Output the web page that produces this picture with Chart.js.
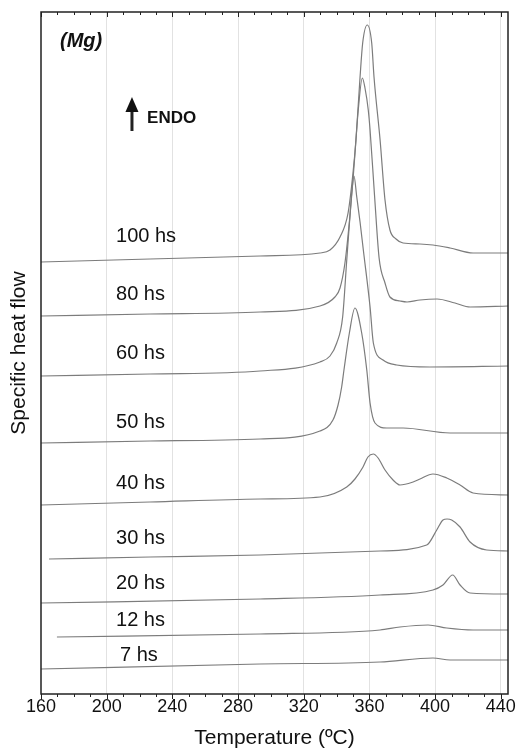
<!DOCTYPE html>
<html>
<head>
<meta charset="utf-8">
<script src="https://cdn.jsdelivr.net/npm/chart.js@4/dist/chart.umd.min.js"></script>
<style>
  html, body { margin: 0; padding: 0; background: #fff; }
  #wrap { width: 518px; height: 750px; }
</style>
</head>
<body>
<div id="wrap"><canvas id="chart" width="518" height="750"></canvas></div>
<script>
// DSC traces, [temperature ºC, heat flow (arb. units, stacked)]
const hs100 = [[160, 43.2], [226.4, 43.5], [293.4, 43.8], [329.9, 44.1], [336.0, 44.4], [342.1, 45.7], [347.0, 48.1],
  [350.0, 52.1], [351.8, 55.4], [354.3, 61.7], [355.9, 65.1], [358.7, 66.9], [361.4, 65.1], [362.8, 61.7], [366.5, 55.4],
  [369.5, 49.4], [372.5, 46.4], [376.2, 45.5], [380.5, 45.1], [390.8, 45.0], [398.7, 44.9], [409.1, 44.6], [423.1, 44.1], [444.4, 44.1]]
const hs80 = [[160, 37.8], [226.4, 38.0], [293.4, 38.2], [329.9, 38.8], [339.0, 39.7], [342.1, 40.6], [345.1, 43.1],
  [348.2, 47.9], [350.0, 51.4], [351.8, 55.4], [353.2, 58.4], [355.7, 61.6], [357.3, 60.6], [359.3, 58.4], [360.4, 56.4],
  [363.1, 49.9], [365.9, 43.6], [369.5, 41.1], [372.5, 39.7], [378.6, 39.3], [382.9, 39.2], [390.8, 39.4], [401.2, 39.5],
  [412.1, 39.1], [421.3, 38.7], [444.4, 38.8]]
const hs60 = [[160, 31.8], [226.4, 32.0], [293.4, 32.3], [329.9, 33.2], [336.0, 33.8], [340.1, 35.1], [343.7, 37.7],
  [346.2, 43.4], [348.2, 47.9], [349.4, 50.4], [350.6, 51.8], [352.3, 49.7], [354.3, 47.2], [356.3, 44.4], [360.4, 38.7],
  [362.4, 35.1], [368.3, 33.4], [376.6, 32.9], [396.9, 32.7], [444.4, 32.8]]
const hs50 = [[160, 25.1], [226.4, 25.3], [293.4, 25.5], [329.9, 26.3], [337.8, 27.4], [340.9, 28.9], [343.1, 30.7],
  [344.5, 32.4], [347.8, 36.1], [351.2, 38.6], [355.3, 36.1], [358.4, 32.4], [360.4, 29.1], [363.4, 27.1], [370.5, 26.6],
  [380.5, 26.6], [409.1, 26.1], [444.4, 26.1]]
const hs40 = [[160, 18.9], [226.4, 19.2], [293.4, 19.5], [329.9, 19.7], [346.2, 20.7], [351.2, 21.5], [356.1, 22.7],
  [359.1, 23.7], [362.4, 24.0], [365.3, 23.6], [369.5, 22.4], [374.4, 21.4], [378.6, 20.9], [386.6, 21.2], [390.8, 21.5],
  [398.7, 22.0], [407.1, 21.6], [415.2, 20.9], [423.1, 20.1], [444.4, 19.9]]
const hs30 = [[164.9, 13.5], [226.4, 13.7], [293.4, 13.9], [366.5, 14.3], [394.9, 14.9], [401.0, 16.4], [404.8, 17.4],
  [407.3, 17.5], [410.1, 17.4], [415.2, 16.7], [421.3, 15.2], [431.4, 14.4], [444.4, 14.3]]
const hs20 = [[160, 9.1], [293.4, 9.5], [366.5, 9.9], [398.7, 10.4], [404.8, 10.9], [410.7, 11.9], [415.2, 10.9],
  [421.3, 10.1], [444.4, 10.0]]
const hs12 = [[169.7, 5.7], [293.4, 6.0], [366.5, 6.4], [378.6, 6.7], [395.7, 6.9], [407.1, 6.6], [423.1, 6.4], [444.4, 6.4]]
const hs7 = [[160, 2.5], [293.4, 3.0], [366.5, 3.2], [398.7, 3.6], [409.1, 3.4], [444.4, 3.4]]

const curveNames = ['100 hs', '80 hs', '60 hs', '50 hs', '40 hs', '30 hs', '20 hs', '12 hs', '7 hs']
const curves = [hs100, hs80, hs60, hs50, hs40, hs30, hs20, hs12, hs7]
const labelTemps = [205.7, 205.7, 205.7, 205.7, 205.7, 205.7, 205.7, 205.7, 208.1]
const labelLevels = [45.8, 40.0, 34.1, 27.2, 21.1, 15.6, 11.1, 7.4, 3.9]

// x ticks: minor every 10, labelled every 40
const tickValues = []
for (let t = 160; t <= 440; t += 10) tickValues.push(t)

const FONT = "'Liberation Sans', Arial, Helvetica, sans-serif"
Chart.defaults.font.family = FONT
Chart.defaults.color = '#111'

const decorations = {
  id: 'decorations',
  afterDraw(chart) {
    const ctx = chart.ctx
    const x = chart.scales.x
    const y = chart.scales.y
    const { top, bottom, left, right } = chart.chartArea

    ctx.save()
    // tick marks, bottom (outside) and top (inside)
    ctx.strokeStyle = '#222'
    ctx.lineWidth = 1
    x.ticks.forEach(t => {
      const px = Math.round(x.getPixelForValue(t.value)) + 0.5
      const len = t.value % 40 === 0 ? 5 : 3
      ctx.beginPath()
      ctx.moveTo(px, bottom)
      ctx.lineTo(px, bottom + len)
      ctx.moveTo(px, top)
      ctx.lineTo(px, top + len)
      ctx.stroke()
    })
    // frame
    ctx.lineWidth = 1.5
    ctx.strokeRect(left, top, right - left, bottom - top)

    // curve labels
    ctx.fillStyle = '#111'
    ctx.textAlign = 'left'
    ctx.textBaseline = 'middle'
    ctx.font = '20px ' + FONT
    curveNames.forEach((name, i) => {
      ctx.fillText(name, x.getPixelForValue(labelTemps[i]), y.getPixelForValue(labelLevels[i]))
    })

    ctx.font = 'italic bold 20px ' + FONT
    ctx.fillText('(Mg)', x.getPixelForValue(171.6), y.getPixelForValue(65.3))

    ctx.font = 'bold 17px ' + FONT
    ctx.fillText('ENDO', x.getPixelForValue(224.6), y.getPixelForValue(57.6))

    // arrow
    const ax = x.getPixelForValue(215.4)
    ctx.lineWidth = 3
    ctx.beginPath()
    ctx.moveTo(ax, y.getPixelForValue(56.3))
    ctx.lineTo(ax, y.getPixelForValue(58.4))
    ctx.stroke()
    ctx.beginPath()
    ctx.moveTo(ax, y.getPixelForValue(59.7))
    ctx.lineTo(ax - 6.5, y.getPixelForValue(58.2))
    ctx.lineTo(ax + 6.5, y.getPixelForValue(58.2))
    ctx.closePath()
    ctx.fill()
    ctx.restore()
  }
}

new Chart(document.getElementById('chart'), {
  type: 'line',
  data: {
    datasets: curves.map((pts, i) => ({
      label: curveNames[i],
      data: pts.map(p => ({ x: p[0], y: p[1] })),
      borderColor: '#7c7c7c',
      borderWidth: 1.2,
      pointRadius: 0,
      fill: false,
      cubicInterpolationMode: 'monotone'
    }))
  },
  options: {
    responsive: false,
    animation: false,
    layout: { padding: { left: 9, right: 10, top: 12, bottom: 0 } },
    plugins: {
      legend: { display: false },
      tooltip: { enabled: false }
    },
    scales: {
      x: {
        type: 'linear',
        min: 160,
        max: 444.4,
        border: { display: false },
        afterBuildTicks: s => { s.ticks = tickValues.map(v => ({ value: v })) },
        grid: {
          drawTicks: false,
          color: c => (c.tick && c.tick.value % 40 === 0 && c.tick.value > 160) ? '#e2e2e2' : 'rgba(0,0,0,0)'
        },
        ticks: {
          autoSkip: false,
          maxRotation: 0,
          padding: 2,
          font: { size: 18 },
          callback: v => (v % 40 === 0 ? String(v) : '')
        },
        title: {
          display: true,
          text: 'Temperature (ºC)',
          font: { size: 21, lineHeight: 1 },
          padding: { top: 0, bottom: 1 }
        },
        afterFit: s => { s.height = 56 }
      },
      y: {
        min: 0,
        max: 68.2,
        border: { display: false },
        grid: { display: false, drawTicks: false },
        ticks: { display: false },
        title: {
          display: true,
          text: 'Specific heat flow',
          font: { size: 21, lineHeight: 1 },
          padding: { top: 0, bottom: 11 }
        },
        afterFit: s => { s.width = 32 }
      }
    }
  },
  plugins: [decorations]
})
</script>
</body>
</html>
